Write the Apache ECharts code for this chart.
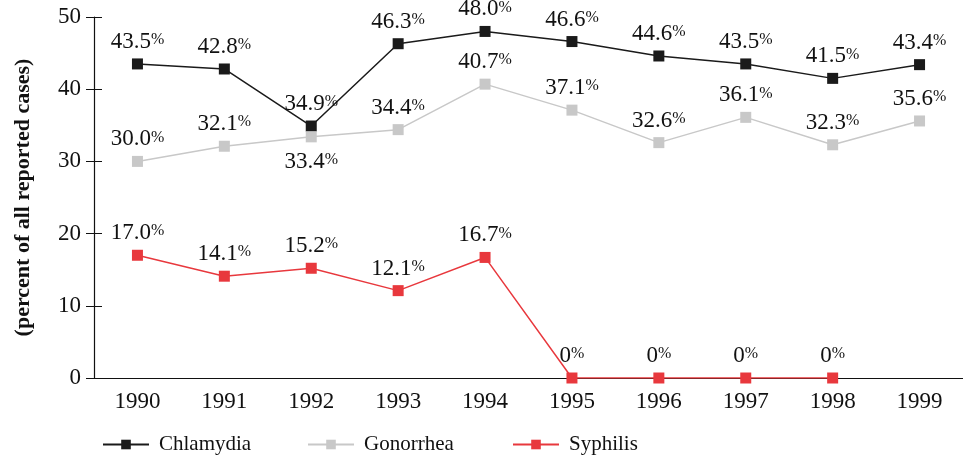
<!DOCTYPE html>
<html>
<head>
<meta charset="utf-8">
<script src="https://cdn.jsdelivr.net/npm/echarts@6/dist/echarts.min.js"></script>
<style>
  html, body { margin: 0; padding: 0; background: #fff; }
  #main { width: 963px; height: 464px; }
</style>
</head>
<body>
<div id="main"></div>
<script>
var years = ['1990', '1991', '1992', '1993', '1994', '1995', '1996', '1997', '1998', '1999'];
var chlamydia = [43.5, 42.8, 34.9, 46.3, 48.0, 46.6, 44.6, 43.5, 41.5, 43.4];
var gonorrhea = [30.0, 32.1, 33.4, 34.4, 40.7, 37.1, 32.6, 36.1, 32.3, 35.6];
var syphilis = [17.0, 14.1, 15.2, 12.1, 16.7, 0, 0, 0, 0, null];
var yTicks = [0, 10, 20, 30, 40, 50];

var font = 'Liberation Serif';

function pctLabel(p) {
  var v = p.value;
  var s = v === 0 ? '0' : v.toFixed(1);
  return '{v|' + s + '}{p|%}';
}

var labelRich = {
  v: { fontFamily: font, fontSize: 23, color: '#111' },
  p: { fontFamily: font, fontSize: 16, color: '#111', padding: [0, 0, 4, 0] }
};

function makeSeries(name, data, color, belowIdx) {
  return {
    name: name,
    type: 'line',
    data: data.map(function (v, i) {
      if (belowIdx !== undefined && i === belowIdx) {
        return { value: v, label: { position: 'bottom', distance: 8 } };
      }
      return v;
    }),
    symbol: 'rect',
    symbolSize: 11,
    itemStyle: { color: color },
    lineStyle: { color: color, width: 1.5 },
    label: {
      show: true,
      position: 'top',
      distance: 5,
      formatter: pctLabel,
      rich: labelRich
    },
    emphasis: { disabled: true }
  };
}

function legendAt(name, left) {
  return {
    left: left,
    bottom: 4,
    itemWidth: 46,
    itemHeight: 12,
    textStyle: { fontFamily: font, fontSize: 21, color: '#111', padding: [0, 0, 0, 5] },
    data: [name]
  };
}

var chart = echarts.init(document.getElementById('main'));
chart.setOption({
  backgroundColor: '#fff',
  animation: false,
  grid: { left: 94, right: 0, top: 17, bottom: 86 },
  legend: [
    legendAt('Chlamydia', 97),
    legendAt('Gonorrhea', 302),
    legendAt('Syphilis', 507)
  ],
  xAxis: {
    type: 'category',
    data: years,
    boundaryGap: true,
    axisLine: { lineStyle: { color: '#111', width: 1.2 } },
    axisTick: { inside: true, length: 10, lineStyle: { color: '#111' } },
    axisLabel: { fontFamily: font, fontSize: 23, color: '#111', margin: 12 }
  },
  yAxis: [{
    type: 'value',
    min: 0,
    max: 50,
    interval: 10,
    name: '(percent of all reported cases)',
    nameLocation: 'middle',
    nameGap: 60,
    nameTextStyle: { fontFamily: font, fontSize: 22, fontWeight: 'bold', color: '#111' },
    axisLine: { show: true, lineStyle: { color: '#111', width: 1.2 } },
    axisTick: { show: true, length: 8, lineStyle: { color: '#111' } },
    axisLabel: {
      fontFamily: font, fontSize: 23, color: '#111', margin: 13,
      formatter: function (v) { return yTicks.indexOf(v) >= 0 ? String(v) : ''; }
    },
    splitLine: { show: false }
  }, {
    type: 'value',
    position: 'left',
    min: 0,
    max: 50,
    interval: 10,
    axisLine: { show: false },
    axisTick: { show: true, inside: true, length: 8, lineStyle: { color: '#111' } },
    axisLabel: { show: false },
    splitLine: { show: false }
  }],
  series: [
    makeSeries('Chlamydia', chlamydia, '#1a1a1a'),
    makeSeries('Gonorrhea', gonorrhea, '#c8c8c8', 2),
    makeSeries('Syphilis', syphilis, '#e8383d')
  ]
});
</script>
</body>
</html>
